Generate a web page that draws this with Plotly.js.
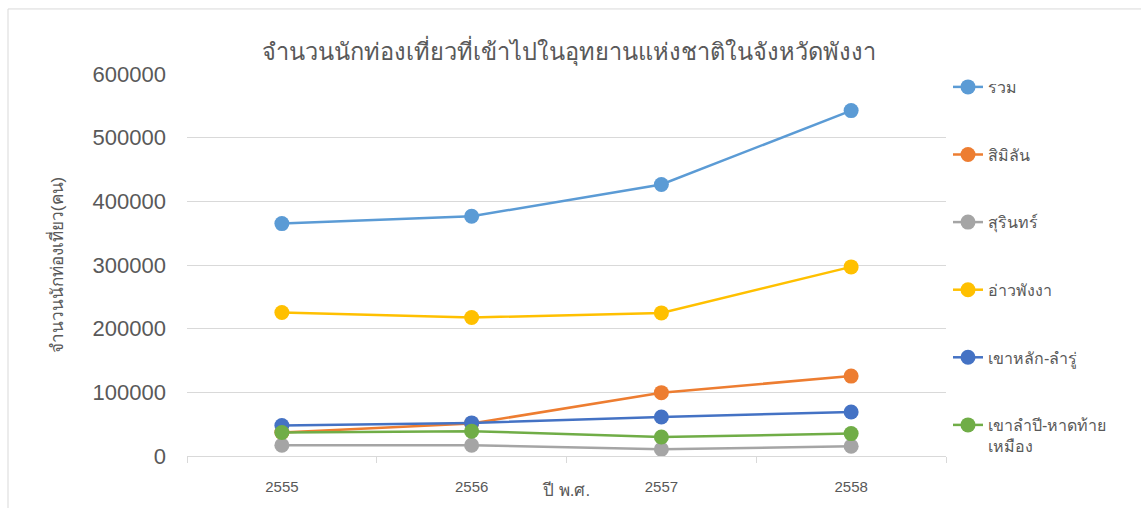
<!DOCTYPE html>
<html>
<head>
<meta charset="utf-8">
<script src="https://cdn.plot.ly/plotly-3.0.1.min.js"></script>
<style>
  html, body { margin: 0; padding: 0; background: #ffffff; }
  #chart { width: 1141px; height: 508px; }
</style>
</head>
<body>
<div id="chart"></div>
<script>
// ---- data ----
const years = ["2555", "2556", "2557", "2558"];
const seriesNames = ["รวม", "สิมิลัน", "สุรินทร์", "อ่าวพังงา", "เขาหลัก-ลำรู่", "เขาลำปี-หาดท้าย<br>เหมือง"];
const total      = [365000, 376500, 426500, 542500];
const similan    = [37000, 51000, 99500, 125500];
const surin      = [16800, 16800, 10500, 15300];
const aoPhangnga = [225500, 217500, 224800, 297000];
const khaoLak    = [48000, 52000, 61300, 69200];
const khaoLampi  = [37000, 39000, 29900, 35200];
const yTicks     = [0, 100000, 200000, 300000, 400000, 500000, 600000];

const seriesValues = [total, similan, surin, aoPhangnga, khaoLak, khaoLampi];
const colors = ["#5B9BD5", "#ED7D31", "#A5A5A5", "#FFC000", "#4472C4", "#70AD47"];

const traces = seriesValues.map((vals, i) => ({
  type: "scatter",
  mode: "lines+markers",
  x: years,
  y: vals,
  name: seriesNames[i],
  legendgroup: "g" + i,
  line: { color: colors[i], width: 2.5 },
  marker: { color: colors[i], size: 15, line: { width: 0 } },
  hoverinfo: "x+y+name"
}));

// plot area geometry (pixels)
const W = 1141, H = 508;
const L = 187, R = 946, T = 74, B = 455.7;
const pw = R - L, ph = B - T;
const px = v => (v - L) / pw;
const py = v => (B - v) / ph;

const grey = "#595959";
const font = "'Liberation Sans', Arial, 'Noto Sans', sans-serif";

const layout = {
  width: W,
  height: H,
  margin: { l: L, r: W - R, t: T, b: H - B, pad: 0 },
  paper_bgcolor: "#ffffff",
  plot_bgcolor: "#ffffff",
  font: { family: font, color: grey },
  showlegend: true,
  title: {
    text: "จำนวนนักท่องเที่ยวที่เข้าไปในอุทยานแห่งชาติในจังหวัดพังงา",
    font: { size: 23.6, color: grey, family: font },
    x: 575 / W, xanchor: "center",
    y: 1 - 52 / H, yanchor: "middle",
    xref: "paper", yref: "container"
  },
  xaxis: {
    type: "category",
    range: [-0.5, 3.5],
    tickson: "boundaries",
    ticks: "outside",
    ticklen: 6,
    tickcolor: "#D9D9D9",
    tickwidth: 1,
    ticklabelstandoff: 17,
    showgrid: false,
    showline: true,
    linecolor: "#D9D9D9",
    linewidth: 1,
    zeroline: false,
    tickfont: { size: 15, color: grey, family: font },
    fixedrange: true
  },
  yaxis: {
    range: [0, 600000],
    tickvals: yTicks,
    ticktext: yTicks.map(String),
    ticks: "",
    showgrid: true,
    gridcolor: "#D9D9D9",
    gridwidth: 1,
    zeroline: false,
    showline: false,
    ticklabelstandoff: 20,
    tickfont: { size: 22, color: grey, family: font },
    title: {
      text: "จำนวนนักท่องเที่ยว(คน)",
      font: { size: 17, color: grey, family: font },
      standoff: 24
    },
    automargin: false,
    fixedrange: true
  },
  legend: {
    x: px(948),
    xanchor: "left",
    y: py(70),
    yanchor: "top",
    orientation: "v",
    traceorder: "grouped",
    tracegroupgap: 43.8,
    valign: "top",
    maxheight: 480,
    bgcolor: "rgba(0,0,0,0)",
    font: { size: 16, color: grey, family: font },
    itemclick: false,
    itemdoubleclick: false
  },
  annotations: [{
    text: "ปี พ.ศ.",
    xref: "paper", yref: "paper",
    x: px(566), y: py(490),
    xanchor: "center", yanchor: "middle",
    showarrow: false,
    font: { size: 17, color: grey, family: font }
  }],
  shapes: [
    { type: "line", xref: "paper", yref: "paper",
      x0: px(8), x1: px(8), y0: py(9), y1: py(520),
      line: { color: "#D9D9D9", width: 1 } },
    { type: "line", xref: "paper", yref: "paper",
      x0: px(8), x1: px(1150), y0: py(9), y1: py(9),
      line: { color: "#D9D9D9", width: 1 } }
  ]
};

Plotly.newPlot("chart", traces, layout, { displayModeBar: false, staticPlot: false });
</script>
</body>
</html>
